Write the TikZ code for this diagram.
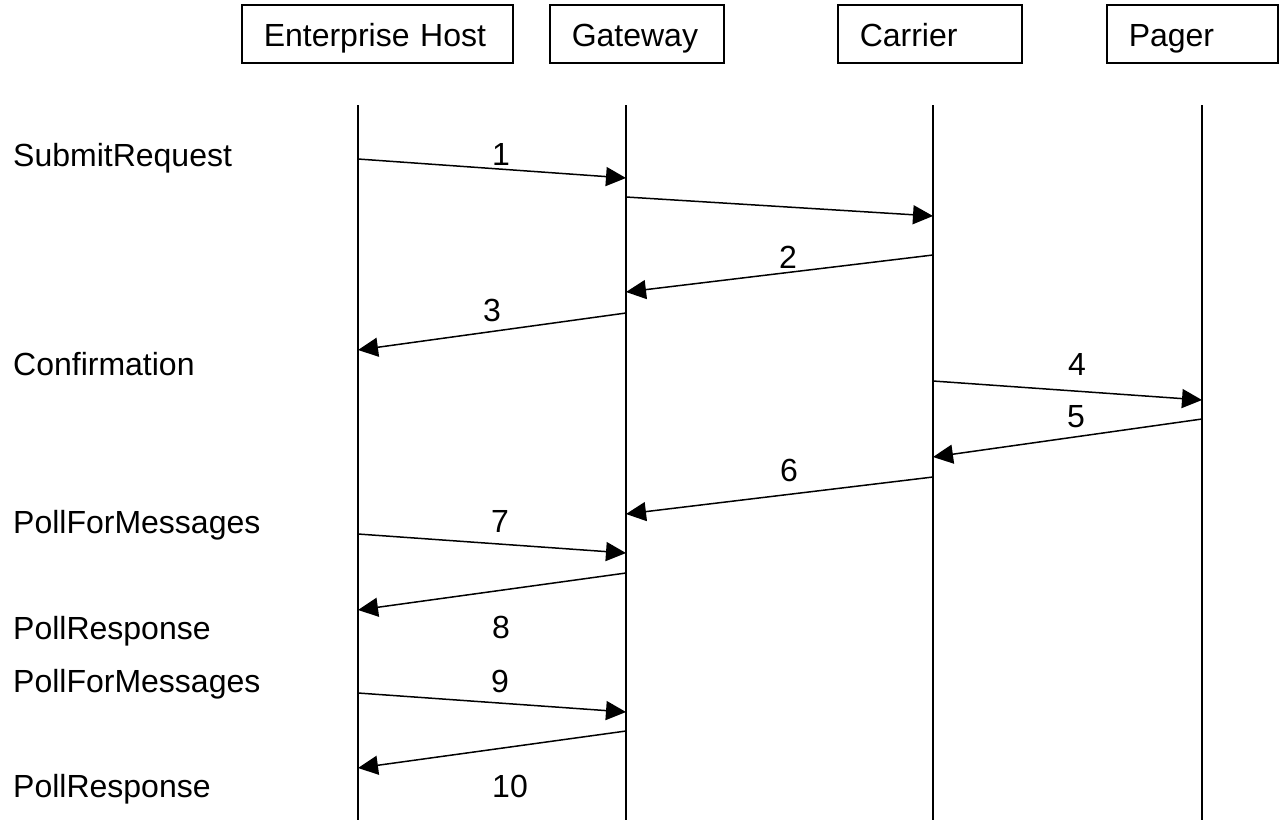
\documentclass[tikz,border=0pt]{standalone}
\usepackage{fontspec}
\setmainfont{Liberation Sans}
\usetikzlibrary{arrows.meta}
\begin{document}
\begin{tikzpicture}[x=1pt,y=-1pt,
  font=\fontsize{32}{38}\selectfont,
  actor/.style={draw, line width=1.5pt, inner xsep=22pt, inner ysep=0pt,
    text width=#1, align=left, minimum height=58pt,
    text height=24pt, text depth=0pt, anchor=west},
  lifeline/.style={line width=1.5pt},
  msg/.style={line width=1.5pt, -{Triangle[length=20pt,width=19pt]}},
  lbl/.style={anchor=base, inner sep=0pt},
  side/.style={anchor=base west, inner sep=0pt}]
\useasboundingbox (0,0) rectangle (1279,820);

% actor boxes
\node[actor=227pt] (eh) at (241,34) {Enterprise Host};
\node[actor=130pt] (gw) at (549,34) {Gateway};
\node[actor=140pt] (ca) at (837,34) {Carrier};
\node[actor=127pt] (pg) at (1106,34) {Pager};

% lifelines
\coordinate (ehT) at (358,105); \coordinate (ehB) at (358,820);
\coordinate (gwT) at (626,105); \coordinate (gwB) at (626,820);
\coordinate (caT) at (933,105); \coordinate (caB) at (933,820);
\coordinate (pgT) at (1202,105); \coordinate (pgB) at (1202,820);
\draw[lifeline] (ehT) -- (ehB);
\draw[lifeline] (gwT) -- (gwB);
\draw[lifeline] (caT) -- (caB);
\draw[lifeline] (pgT) -- (pgB);

% message end points
\coordinate (a1) at (358,159);  \coordinate (b1) at (626,178);
\coordinate (a1b) at (626,197); \coordinate (b1b) at (933,216);
\coordinate (a2) at (933,255);  \coordinate (b2) at (626,292);
\coordinate (a3) at (626,313);  \coordinate (b3) at (358,350);
\coordinate (a4) at (933,381);  \coordinate (b4) at (1202,400);
\coordinate (a5) at (1202,419); \coordinate (b5) at (933,457);
\coordinate (a6) at (933,477);  \coordinate (b6) at (626,514);
\coordinate (a7) at (358,534);  \coordinate (b7) at (626,553);
\coordinate (a8) at (626,573);  \coordinate (b8) at (358,610);
\coordinate (a9) at (358,693);  \coordinate (b9) at (626,712);
\coordinate (a10) at (626,731); \coordinate (b10) at (358,768);

\draw[msg] (a1) -- (b1);
\draw[msg] (a1b) -- (b1b);
\draw[msg] (a2) -- (b2);
\draw[msg] (a3) -- (b3);
\draw[msg] (a4) -- (b4);
\draw[msg] (a5) -- (b5);
\draw[msg] (a6) -- (b6);
\draw[msg] (a7) -- (b7);
\draw[msg] (a8) -- (b8);
\draw[msg] (a9) -- (b9);
\draw[msg] (a10) -- (b10);

% message numbers
\node[lbl] (n1) at (501,165) {1};
\node[lbl] (n2) at (788,268) {2};
\node[lbl] (n3) at (492,321) {3};
\node[lbl] (n4) at (1077,375) {4};
\node[lbl] (n5) at (1076,427) {5};
\node[lbl] (n6) at (789,481) {6};
\node[lbl] (n7) at (500,532) {7};
\node[lbl] (n8) at (501,638) {8};
\node[lbl] (n9) at (500,692) {9};
\node[lbl] (n10) at (510,797) {10};

% side labels
\node[side] (s1) at (13,166) {SubmitRequest};
\node[side] (s2) at (13,375) {Confirmation};
\node[side] (s3) at (13,533) {PollForMessages};
\node[side] (s4) at (13,639) {PollResponse};
\node[side] (s5) at (13,692) {PollForMessages};
\node[side] (s6) at (13,797) {PollResponse};
\end{tikzpicture}
\end{document}
